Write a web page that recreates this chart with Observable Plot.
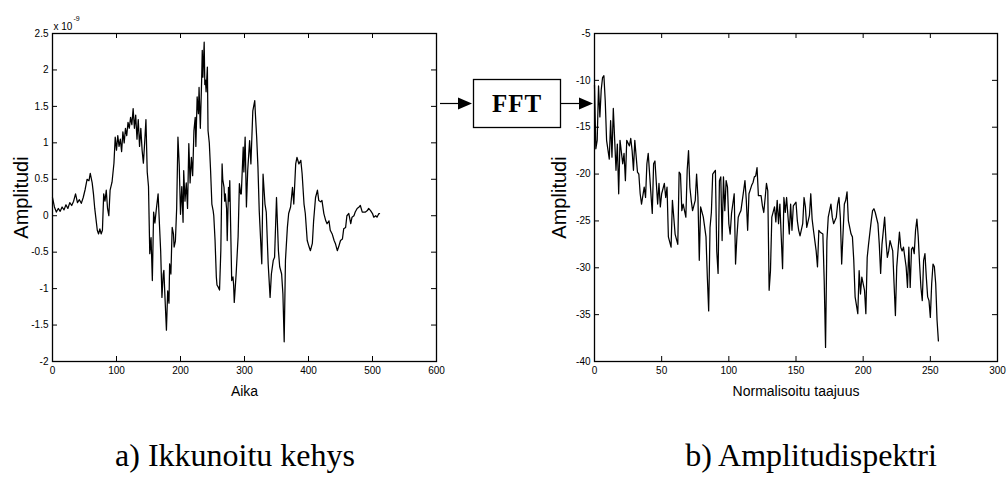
<!DOCTYPE html>
<html><head><meta charset="utf-8">
<script src="https://cdn.jsdelivr.net/npm/d3@7"></script>
<script src="https://cdn.jsdelivr.net/npm/@observablehq/plot@0.6"></script>
<style>
html,body{margin:0;padding:0;background:#fff;}
#wrap{position:relative;width:1007px;height:493px;overflow:hidden;background:#fff;}
#left{position:absolute;left:0;top:0;}
#right{position:absolute;left:540px;top:0;}
#diagram{position:absolute;left:0;top:0;pointer-events:none;}
</style></head><body>
<div id="wrap"><div id="left"></div><div id="right"></div><svg id="diagram" width="1007" height="493"></svg></div>
<script>
// ---- a) windowed frame: sample index and amplitude (x 1e-9)
const aikaIdx = [0,3,6,9,12,15,18,21,24,27,30,33,36,39,42,45,48,51,54,57,59,62,64,66,68,70,72,74,76,78,80,82,84,86,88,90,93,96,98,100,102,104,106,108,110,112,114,116,118,120,122,124,126,128,130,132,134,136,138,140,142,144,146,148,150,152,154,156,158,160,162,165,167,169,171,173,174,176,178,180,182,183,185,187,189,190,192,194,196,198,200,202,204,205,207,209,211,213,215,217,219,221,223,224,226,228,229,231,233,234,235,237,238,239,240,242,243,245,247,249,251,252,254,256,257,259,261,263,265,266,268,269,270,272,273,275,276,277,280,282,283,284,287,290,292,294,295,298,299,301,303,305,308,310,313,316,317,319,321,323,327,329,332,334,337,340,342,345,347,350,353,355,358,360,362,364,367,369,372,375,377,380,382,385,388,390,393,395,398,401,403,406,408,411,414,416,419,421,424,427,429,432,434,437,440,442,445,447,450,453,455,458,460,463,466,468,471,473,476,479,481,484,487,489,492,494,497,500,502,505,507,510,511];
const aikaAmp = [0.25,0.12,0.05,0.10,0.06,0.12,0.08,0.15,0.10,0.18,0.14,0.20,0.30,0.18,0.22,0.17,0.25,0.36,0.50,0.48,0.58,0.45,0.30,0.10,-0.05,-0.20,-0.25,-0.18,-0.25,-0.20,0.30,0.20,0.35,0.10,0.00,0.35,0.46,0.72,1.08,0.90,1.10,0.95,1.05,0.88,1.15,1.00,1.20,1.10,1.28,1.20,1.35,1.25,1.47,1.20,1.38,1.05,1.32,0.95,1.20,0.90,0.72,1.00,1.32,0.60,0.40,-0.52,-0.30,-0.89,0.05,-0.10,0.07,0.30,-0.10,-0.48,-1.12,-0.80,-0.75,-1.17,-1.57,-1.03,-1.20,-0.66,-0.80,-0.16,-0.25,-0.43,-0.35,0.10,1.08,0.70,0.02,0.40,-0.09,0.62,0.20,0.45,0.10,0.99,0.45,0.80,0.55,1.17,1.35,0.95,1.63,1.40,1.76,1.20,1.85,2.27,1.90,2.38,1.80,1.86,1.70,2.04,1.17,1.00,0.62,0.16,0.07,0.00,-0.34,-0.84,-0.95,-0.98,-1.02,-0.48,0.71,0.50,0.39,0.20,0.30,0.10,-0.34,0.39,0.20,0.48,-0.89,-0.84,-0.95,-1.19,-0.79,-0.29,0.44,0.30,0.30,0.94,0.60,1.08,0.12,0.62,1.03,0.71,1.44,1.58,1.40,1.08,0.67,0.07,-0.66,0.57,0.16,0.05,-0.66,-1.12,-0.80,-0.61,-0.57,0.25,-0.48,-0.70,-0.80,-1.07,-1.73,-0.61,-0.16,0.03,0.12,0.39,0.16,0.71,0.80,0.71,0.76,0.58,0.16,0.03,-0.34,-0.43,-0.48,-0.38,-0.07,0.25,0.35,0.21,0.19,0.21,0.03,-0.07,-0.11,-0.07,-0.20,-0.25,-0.34,-0.38,-0.48,-0.43,-0.34,-0.32,-0.18,-0.16,0.00,0.03,-0.11,-0.02,0.00,0.05,0.10,0.12,0.14,0.05,0.05,0.05,0.07,0.10,0.07,0.03,-0.02,0.00,-0.02,0.03,0.03];

// ---- b) amplitude spectrum: normalised frequency and level
const specIdx = [0,1,2,3,4,5,6,7,8,9,11,12,13,14,16,17,18,19,21,22,23,24,26,27,28,29,30,32,33,34,35,37,38,39,40,42,43,44,45,47,48,49,50,52,53,54,55,57,58,59,60,62,63,64,65,66,68,69,70,71,72,73,75,76,77,78,79,81,83,84,85,86,87,88,89,90,91,92,93,94,95,96,97,98,99,100,101,102,104,105,106,107,108,109,111,112,113,114,115,117,118,119,120,121,122,124,125,126,127,128,129,130,131,132,134,135,136,137,138,140,141,142,143,145,146,147,148,150,151,152,153,155,156,157,158,160,161,162,163,165,166,167,168,170,171,172,173,174,176,177,178,180,181,182,183,184,186,187,188,189,191,192,193,194,196,197,198,199,201,202,203,204,206,207,208,209,211,212,213,214,216,217,218,219,220,222,223,224,225,227,228,229,230,232,233,234,235,236,237,238,239,240,241,242,243,244,245,246,247,248,249,250,251,252,253,254,255,256];
const specAmp = [-10.5,-17.3,-16.4,-10.6,-13.9,-11.0,-9.7,-9.5,-12.2,-16.4,-18.4,-14.3,-18.2,-13.0,-19.6,-16.8,-22.1,-16.4,-18.9,-17.8,-20.7,-16.4,-17.0,-16.2,-17.5,-19.6,-16.4,-19.8,-20.0,-22.1,-23.2,-21.4,-22.5,-18.9,-17.8,-22.1,-24.2,-18.9,-18.6,-23.2,-21.0,-23.5,-22.1,-21.0,-22.5,-21.4,-26.7,-27.8,-22.8,-24.6,-26.4,-27.5,-19.8,-20.0,-23.9,-23.2,-24.6,-19.6,-17.5,-21.4,-22.8,-23.9,-22.8,-20.0,-22.5,-29.2,-23.5,-24.6,-26.7,-31.0,-34.6,-25.7,-24.1,-20.0,-19.8,-19.6,-28.2,-30.6,-20.7,-20.3,-27.1,-20.3,-23.9,-20.7,-21.4,-25.3,-26.4,-24.2,-22.1,-29.6,-26.7,-24.6,-24.2,-23.9,-21.8,-20.7,-22.8,-26.0,-22.1,-21.2,-20.9,-20.3,-20.2,-19.3,-22.3,-22.3,-23.4,-24.1,-22.6,-21.0,-21.8,-32.4,-30.3,-24.6,-23.5,-25.1,-22.8,-25.3,-23.2,-30.1,-22.5,-24.1,-22.5,-26.4,-23.2,-26.0,-23.4,-23.0,-25.0,-26.0,-26.6,-25.3,-22.5,-23.5,-25.7,-24.4,-22.1,-24.8,-26.0,-28.2,-29.9,-26.0,-26.2,-26.4,-31.4,-38.5,-27.1,-24.6,-23.2,-24.6,-25.3,-24.6,-23.2,-22.5,-24.6,-29.6,-23.2,-22.8,-21.9,-25.0,-26.4,-26.7,-29.2,-33.1,-34.9,-30.3,-32.8,-31.0,-32.4,-34.9,-28.9,-27.5,-25.0,-23.9,-23.7,-24.1,-25.3,-27.5,-30.6,-27.5,-24.6,-27.1,-28.9,-28.2,-27.1,-28.2,-31.7,-35.1,-29.9,-26.2,-27.8,-28.2,-27.8,-29.9,-32.1,-27.8,-32.1,-28.0,-27.8,-28.5,-26.0,-24.8,-26.7,-29.6,-32.1,-33.5,-29.2,-28.5,-31.0,-33.1,-33.5,-35.3,-31.7,-29.6,-29.9,-31.7,-35.6,-37.8];

// ---- axes ticks and texts
const leftXTicks = [0,100,200,300,400,500,600];
const leftYTicks = [-2,-1.5,-1,-0.5,0,0.5,1,1.5,2,2.5];
const rightXTicks = [0,50,100,150,200,250,300];
const rightYTicks = [-40,-35,-30,-25,-20,-15,-10,-5];
const labels = {leftX: "Aika", rightX: "Normalisoitu taajuus", y: "Amplitudi", exp: "x 10", expSup: "-9", block: "FFT"};
const captions = ["a) Ikkunoitu kehys", "b) Amplitudispektri"];

const sans = "'Liberation Sans', Arial, sans-serif";
const fmt = d => String(d);

function panel({data, xKey, yKey, xDomain, yDomain, xTicks, yTicks, width, mLeft, mRight, xLabel, yLabelDx, extra = []}) {
  const mTop = 33, mBottom = 49, height = 410;
  const innerW = width - mLeft - mRight, innerH = height - mTop - mBottom;
  const t = 5;
  return Plot.plot({
    width, height, marginLeft: mLeft, marginRight: mRight, marginTop: mTop, marginBottom: mBottom,
    style: {fontFamily: sans, fontSize: "10px", color: "#000", background: "#fff"},
    x: {domain: xDomain},
    y: {domain: yDomain},
    marks: [
      Plot.line(data, {x: xKey, y: yKey, stroke: "#000", strokeWidth: 1.25}),
      Plot.frame({stroke: "#000", strokeWidth: 1.3}),
      Plot.ruleX(xTicks, {x: d => d, insetBottom: innerH - t, stroke: "#000"}),
      Plot.ruleX(xTicks, {x: d => d, insetTop: innerH - t, stroke: "#000"}),
      Plot.ruleY(yTicks, {y: d => d, insetRight: innerW - t, stroke: "#000"}),
      Plot.ruleY(yTicks, {y: d => d, insetLeft: innerW - t, stroke: "#000"}),
      Plot.axisX(xTicks, {tickSize: 0, tickPadding: 5, tickFormat: fmt, label: null, fontSize: 10, fill: "#000"}),
      Plot.axisY(yTicks, {tickSize: 0, tickPadding: 4, tickFormat: fmt, label: null, fontSize: 10, fill: "#000"}),
      Plot.text([xLabel], {frameAnchor: "bottom", textAnchor: "middle", dy: 34, fontSize: 14, fill: "#000"}),
      Plot.text([labels.y], {frameAnchor: "left", textAnchor: "middle", dx: yLabelDx, rotate: -90, fontSize: 20, fill: "#000"}),
      ...extra
    ]
  });
}

const leftData = aikaIdx.map((n, i) => ({n, v: aikaAmp[i]}));
const rightData = specIdx.map((n, i) => ({n, v: specAmp[i]}));

document.getElementById("left").append(panel({
  data: leftData, xKey: "n", yKey: "v", xDomain: [0, 600], yDomain: [-2, 2.5],
  xTicks: leftXTicks, yTicks: leftYTicks, width: 460, mLeft: 52, mRight: 24,
  xLabel: labels.leftX, yLabelDx: -31,
  extra: [
    Plot.text([labels.exp], {frameAnchor: "top-left", textAnchor: "start", dx: 1, dy: -11, fontSize: 10, fill: "#000"}),
    Plot.text([labels.expSup], {frameAnchor: "top-left", textAnchor: "start", dx: 21, dy: -17, fontSize: 7, fill: "#000"})
  ]
}));

document.getElementById("right").append(panel({
  data: rightData, xKey: "n", yKey: "v", xDomain: [0, 300], yDomain: [-40, -5],
  xTicks: rightXTicks, yTicks: rightYTicks, width: 467, mLeft: 54, mRight: 10,
  xLabel: labels.rightX, yLabelDx: -35
}));

// ---- block diagram and captions
const svg = d3.select("#diagram");
svg.append("rect").attr("x", 473.5).attr("y", 79.5).attr("width", 87).attr("height", 48)
  .attr("fill", "#fff").attr("stroke", "#000").attr("stroke-width", 1.3);
svg.append("text").attr("x", 517).attr("y", 112).attr("text-anchor", "middle")
  .attr("font-family", "'Liberation Serif', 'Times New Roman', serif").attr("font-weight", "bold")
  .attr("font-size", 25).attr("letter-spacing", 1).text(labels.block);
function arrow(x1, x2, y) {
  svg.append("line").attr("x1", x1).attr("x2", x2 - 10).attr("y1", y).attr("y2", y).attr("stroke", "#000").attr("stroke-width", 1.2);
  svg.append("polygon").attr("points", `${x2},${y} ${x2 - 14},${y - 6} ${x2 - 14},${y + 6}`).attr("fill", "#000");
}
arrow(440, 472, 103.5);
arrow(561, 593, 103.5);
const capX = [235, 811];
captions.forEach((c, i) => {
  svg.append("text").attr("x", capX[i]).attr("y", 466).attr("text-anchor", "middle")
    .attr("font-family", "'Liberation Serif', 'Times New Roman', serif").attr("font-size", 32).attr("fill", "#000").text(c);
});
</script>
</body></html>
